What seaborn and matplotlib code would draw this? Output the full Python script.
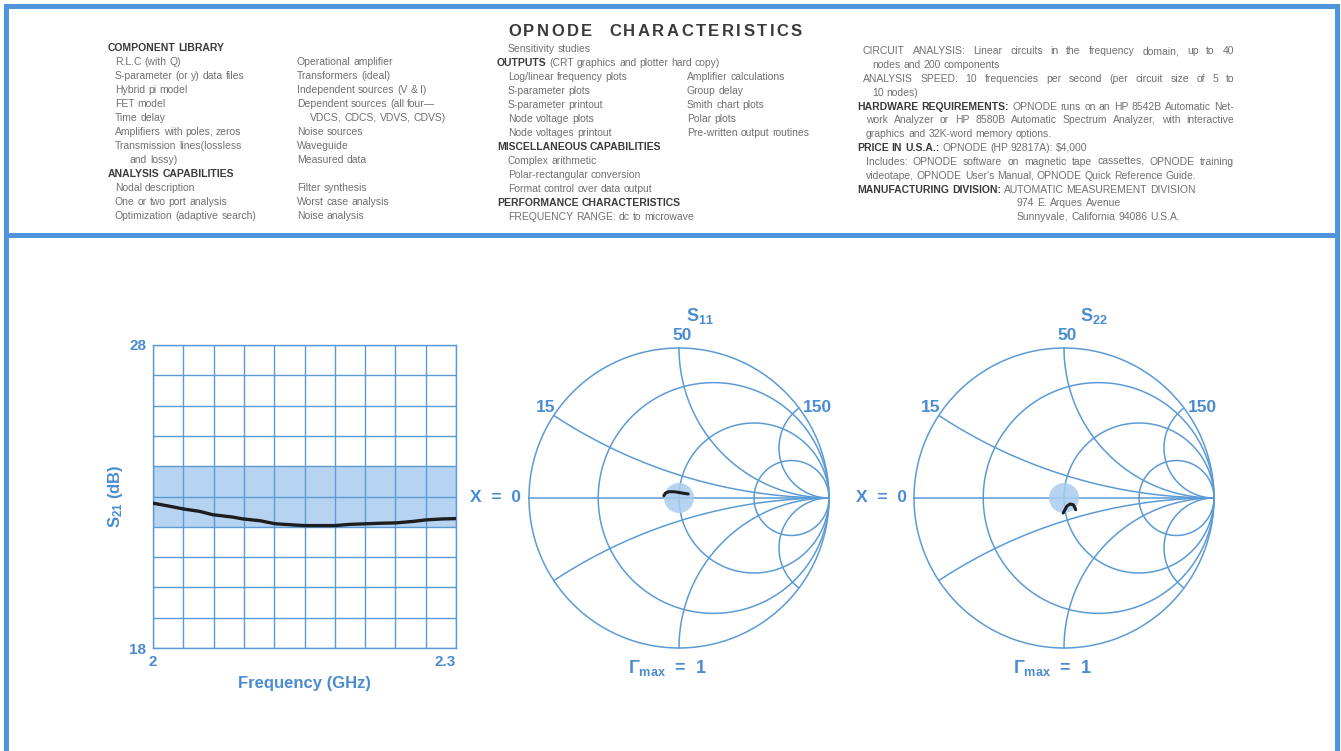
import numpy as np
import matplotlib
matplotlib.use("Agg")
import matplotlib.pyplot as plt
from matplotlib.patches import Circle
import seaborn as sns

W, H, DPI = 1341, 751, 100

BLUE      = "#4a8cd0"
LINE_BLUE = "#5b9bd5"
SHADE     = "#a9cdef"
GREY      = "#707070"
DARK      = "#3a3a3a"
TRACE     = "#1e1e1e"
FS        = 7.5


# ─────────────────────────────────────────
# DATA
# ─────────────────────────────────────────

# S21 trace (dB) vs frequency (GHz)
FREQ_GHZ = [2.000, 2.013, 2.030, 2.046, 2.059, 2.079, 2.089, 2.106, 2.121, 2.135, 2.150,
            2.165, 2.180, 2.195, 2.211, 2.228, 2.241, 2.258, 2.271, 2.287, 2.300]
S21_DB   = [22.78, 22.70, 22.59, 22.51, 22.40, 22.32, 22.26, 22.20, 22.10, 22.07, 22.04,
            22.04, 22.04, 22.08, 22.10, 22.12, 22.13, 22.18, 22.23, 22.26, 22.27]
S21_SPEC = [22, 24]
FREQ_TICKS  = ["2", "2.3"]
S21_TICKS   = ["18", "28"]

# reflection traces on the Smith charts (real, imag of Gamma)
S11_RE = [-0.101, -0.090, -0.068, -0.035, -0.001, 0.032, 0.061]
S11_IM = [0.015, 0.033, 0.042, 0.042, 0.037, 0.031, 0.027]
S22_RE = [-0.005, 0.018, 0.040, 0.062, 0.073, 0.078]
S22_IM = [-0.100, -0.056, -0.040, -0.045, -0.065, -0.078]
SPEC_RADIUS = 0.1

# Smith grid: normalised resistance circles and reactance arcs
SMITH_R = [0, 0.3, 1, 3]
SMITH_X = [0, 0.3, 1, 3]
SMITH_X_LABELS = ["15", "50", "150"]   # ohms for x = 0.3, 1, 3

# ─────────────────────────────────────────
# TEXT BLOCK
# ─────────────────────────────────────────

TITLE = "OPNODE CHARACTERISTICS"

# (bold part, regular part, indent level)
COL1 = [("COMPONENT LIBRARY", "", 0),
        ("", "R.L.C (with Q)", 1),
        ("", "S-parameter (or y) data files", 1),
        ("", "Hybrid pi model", 1),
        ("", "FET model", 1),
        ("", "Time delay", 1),
        ("", "Amplifiers with poles, zeros", 1),
        ("", "Transmission lines(lossless", 1),
        ("", "and lossy)", 2),
        ("ANALYSIS CAPABILITIES", "", 0),
        ("", "Nodal description", 1),
        ("", "One or two port analysis", 1),
        ("", "Optimization (adaptive search)", 1)]

COL2 = [("", "", 1),
        ("", "Operational amplifier", 1),
        ("", "Transformers (ideal)", 1),
        ("", "Independent sources (V & I)", 1),
        ("", "Dependent sources (all four\u2014", 1),
        ("", "VDCS, CDCS, VDVS, CDVS)", 2),
        ("", "Noise sources", 1),
        ("", "Waveguide", 1),
        ("", "Measured data", 1),
        ("", "", 1),
        ("", "Filter synthesis", 1),
        ("", "Worst case analysis", 1),
        ("", "Noise analysis", 1)]

COL3 = [("", "Sensitivity studies", 1),
        ("OUTPUTS", "(CRT graphics and plotter hard copy)", 0),
        ("", "Log/linear frequency plots", 1),
        ("", "S-parameter plots", 1),
        ("", "S-parameter printout", 1),
        ("", "Node voltage plots", 1),
        ("", "Node voltages printout", 1),
        ("MISCELLANEOUS CAPABILITIES", "", 0),
        ("", "Complex arithmetic", 1),
        ("", "Polar-rectangular conversion", 1),
        ("", "Format control over data output", 1),
        ("PERFORMANCE CHARACTERISTICS", "", 0),
        ("", "FREQUENCY RANGE: dc to microwave", 1)]

COL4 = [("", "", 1),
        ("", "", 1),
        ("", "Amplifier calculations", 1),
        ("", "Group delay", 1),
        ("", "Smith chart plots", 1),
        ("", "Polar plots", 1),
        ("", "Pre-written output routines", 1)]

COL5 = [("", "CIRCUIT ANALYSIS: Linear circuits in the frequency domain, up to 40", 1),
        ("", "nodes and 200 components", 2),
        ("", "ANALYSIS SPEED: 10 frequencies per second (per circuit size of 5 to", 1),
        ("", "10 nodes)", 2),
        ("HARDWARE REQUIREMENTS:", "OPNODE runs on an HP 8542B Automatic Net-", 0),
        ("", "work Analyzer or HP 8580B Automatic Spectrum Analyzer, with interactive", 4),
        ("", "graphics and 32K-word memory options.", 4),
        ("PRICE IN U.S.A.:", "OPNODE (HP 92817A): \\$4,000", 0),
        ("", "Includes: OPNODE software on magnetic tape cassettes, OPNODE training", 4),
        ("", "videotape, OPNODE User's Manual, OPNODE Quick Reference Guide.", 4),
        ("MANUFACTURING DIVISION:", "AUTOMATIC MEASUREMENT DIVISION", 0),
        ("", "974 E. Arques Avenue", 3),
        ("", "Sunnyvale, California 94086 U.S.A.", 3)]
COL5_JUSTIFIED = [0, 2, 4, 5, 8]


# ─────────────────────────────────────────
# SETUP
# ─────────────────────────────────────────

sns.set_theme(style="white")
plt.rcParams["font.family"] = ["Liberation Sans", "DejaVu Sans"]
plt.rcParams["mathtext.fontset"] = "custom"
plt.rcParams["mathtext.rm"] = "Liberation Sans"
plt.rcParams["mathtext.bf"] = "Liberation Sans:bold"
plt.rcParams["mathtext.it"] = "Liberation Sans:italic"

fig = plt.figure(figsize=(W / DPI, H / DPI), dpi=DPI, facecolor="white")
renderer = fig.canvas.get_renderer()


def px_axes(x0, y0, x1, y1, **kw):
    """axes from pixel box (top-left origin)"""
    return fig.add_axes([x0 / W, 1 - y1 / H, (x1 - x0) / W, (y1 - y0) / H], **kw)


# blue framed panels
for box, hide in [((6, 6, 1337, 234.5), None), ((6, 234.5, 1337, 790), "bottom")]:
    pan = px_axes(*box)
    pan.set_xticks([]); pan.set_yticks([])
    for name, sp in pan.spines.items():
        sp.set_color("#4f95dc")
        sp.set_linewidth(3.6)
        sp.set_visible(name != hide)

# overlay for text in pixel coords
txt = px_axes(0, 0, W, H)
txt.set_xlim(0, W); txt.set_ylim(H, 0)
txt.axis("off")
txt.patch.set_alpha(0)

SPACE = 0.278 * FS * DPI / 72
BASE  = 3.6   # line centre -> baseline offset (px)


def place_words(x, y, words, right=None):
    arts = []
    for w, b in words:
        arts.append(txt.text(0, round(y + BASE), w, fontsize=FS,
                             fontweight="bold" if b else "normal",
                             color=DARK if b else GREY, ha="left", va="baseline"))
    widths = [a.get_window_extent(renderer).width for a in arts]
    gap = SPACE
    if right is not None and len(arts) > 1:
        gap = (right - x - sum(widths)) / (len(arts) - 1)
    for a, wd in zip(arts, widths):
        a.set_x(x)
        x += wd + gap


def write_column(lines, x_levels, y0, step, justified=(), right=None):
    for i, (bold, reg, lvl) in enumerate(lines):
        words = [(w, True) for w in bold.split()] + [(w, False) for w in reg.split()]
        if words:
            place_words(x_levels[lvl], y0 + i * step, words,
                        right if i in justified else None)


def tracked_title(xc, y, s, width):
    arts = [txt.text(0, y, ch, fontsize=12, fontweight="bold", color=DARK,
                     ha="left", va="baseline") for ch in s.replace(" ", "")]
    widths = [a.get_window_extent(renderer).width for a in arts]
    n_sp = s.count(" ")
    sp_w = 14
    track = (width - sum(widths) - n_sp * sp_w) / (len(arts) - 1)
    x = xc - width / 2
    k = 0
    for ch in s:
        if ch == " ":
            x += sp_w
            continue
        arts[k].set_x(x)
        x += widths[k] + track
        k += 1


tracked_title(655, 36, TITLE, 294)
write_column(COL1, [108, 115, 130], 47.3, 13.97)
write_column(COL2, [297, 297, 310], 47.3, 13.97)
write_column(COL3, [497, 508, 520], 48.3, 13.97)
write_column(COL4, [687, 687, 687], 48.3, 13.97)
write_column(COL5, [857, 863, 872, 1017, 866], 50.7, 13.83, COL5_JUSTIFIED, 1234)


# ─────────────────────────────────────────
# S21 RECTANGULAR PLOT
# ─────────────────────────────────────────

ax = px_axes(153, 345, 456, 648)
ax.set_xlim(FREQ_GHZ[0], FREQ_GHZ[-1])
ax.set_ylim(18, 28)
ax.axhspan(S21_SPEC[0], S21_SPEC[1], color=SHADE, alpha=0.85, lw=0, zorder=0)
sns.lineplot(x=FREQ_GHZ, y=S21_DB, ax=ax, color=TRACE, lw=2.4, zorder=3)

xgrid = np.linspace(2.0, 2.3, 11)
ygrid = np.arange(18, 29, 1)
ax.set_xticks(xgrid)
ax.set_yticks(ygrid)
ax.set_xticklabels([FREQ_TICKS[0]] + [""] * 9 + [FREQ_TICKS[1]])
ax.set_yticklabels([S21_TICKS[0]] + [""] * 9 + [S21_TICKS[1]])
ax.get_xticklabels()[-1].set_horizontalalignment("right")
ax.tick_params(length=0, labelsize=11, labelcolor=BLUE, pad=5)
for lab in ax.get_xticklabels() + ax.get_yticklabels():
    lab.set_fontweight("bold")
ax.grid(True, color=LINE_BLUE, lw=1.0)
for sp in ax.spines.values():
    sp.set_color(LINE_BLUE)
    sp.set_linewidth(1.0)
ax.set_facecolor("white")
ax.set_xlabel("Frequency (GHz)", fontsize=12, fontweight="bold", color=BLUE, labelpad=5)
ax.set_ylabel(r"S$_{\mathbf{21}}$ (dB)", fontsize=12, fontweight="bold", color=BLUE,
              labelpad=3)


# ─────────────────────────────────────────
# SMITH CHARTS
# ─────────────────────────────────────────

LIM = 1.2
RAD = 150


def smith_chart(cx, cy, re, im, title, title_dx):
    sa = px_axes(cx - LIM * RAD, cy - LIM * RAD, cx + LIM * RAD, cy + LIM * RAD)
    sa.set_xlim(-LIM, LIM); sa.set_ylim(-LIM, LIM)
    sa.set_aspect("equal")
    sa.axis("off")

    t = np.linspace(-np.pi, np.pi, 721)
    for r in SMITH_R:
        c, rad = r / (1 + r), 1 / (1 + r)
        sa.plot(c + rad * np.cos(t), rad * np.sin(t), color=LINE_BLUE, lw=1.1)

    rr = np.concatenate([[0], np.logspace(-3, 4, 800)])
    for x in SMITH_X:
        for s in ((1, -1) if x else (1,)):
            z = rr + 1j * s * x
            g = (z - 1) / (z + 1)
            sa.plot(g.real, g.imag, color=LINE_BLUE, lw=1.1)

    sa.add_patch(Circle((0, 0), SPEC_RADIUS, color=SHADE, alpha=0.85, lw=0, zorder=3))
    sns.lineplot(x=re, y=im, sort=False, ax=sa, color=TRACE, lw=2.2, zorder=4)

    kw = dict(fontsize=12.5, fontweight="bold", color=BLUE, va="center", clip_on=False)
    sa.text(title_dx, 1.21, title, ha="center", **{**kw, "fontsize": 13})
    sa.text(0.02, 1.08, SMITH_X_LABELS[1], ha="center", **kw)
    sa.text(-0.89, 0.60, SMITH_X_LABELS[0], ha="center", **kw)
    sa.text(0.92, 0.60, SMITH_X_LABELS[2], ha="center", **kw)
    sa.text(-1.05, 0.0, "X  =  0", ha="right", **kw)
    sa.text(-0.08, -1.13, "\u0393$_{\\mathbf{max}}$  =  1", ha="center",
            **{**kw, "fontsize": 13})


smith_chart(679, 498, S11_RE, S11_IM, r"S$_{\mathbf{11}}$", 0.14)
smith_chart(1064, 498, S22_RE, S22_IM, r"S$_{\mathbf{22}}$", 0.20)

fig.savefig("out.png", dpi=DPI, facecolor="white")
